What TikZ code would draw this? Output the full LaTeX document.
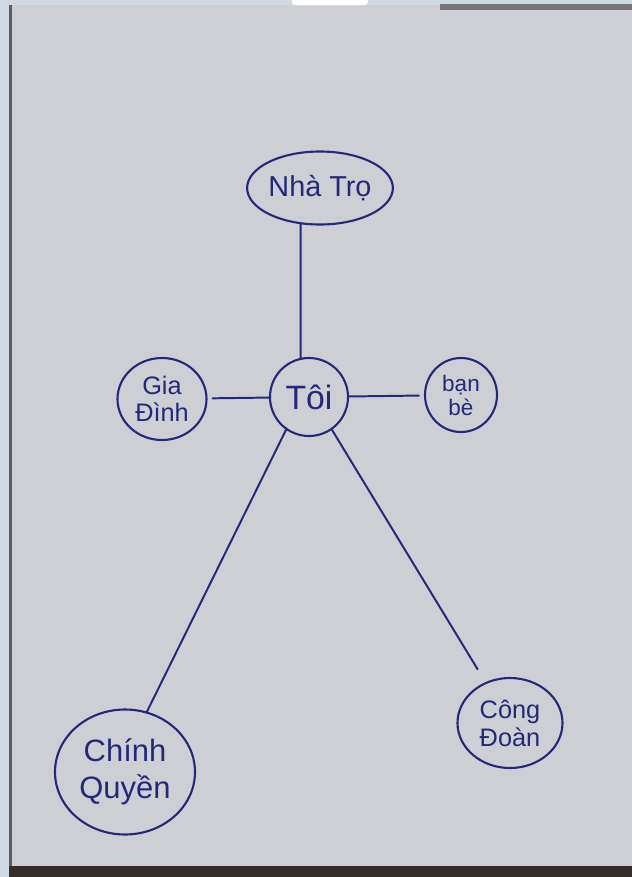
\documentclass[tikz,border=0pt]{standalone}
\usepackage{fontspec}
\setmainfont{Liberation Sans}
\usetikzlibrary{shapes.geometric}

\newcommand{\px}{0.025cm}
\definecolor{ink}{RGB}{36,40,122}
\definecolor{paper}{RGB}{206,207,213}
\definecolor{frame}{RGB}{208,217,225}
\definecolor{floor}{RGB}{52,44,40}

\tikzset{
  bubble/.style={draw=ink, ellipse, line width=1.5pt, inner sep=0pt, text=ink, align=center},
  link/.style={draw=ink, line width=1.4pt, line cap=round}
}

\begin{document}
\begin{tikzpicture}[x=\px, y=-\px]
\useasboundingbox (0,0) rectangle (632,877);
\clip (0,0) rectangle (632,877);
% photo edges
\fill [frame] (0,0) rectangle (632,877);
\fill [paper] (9,5) rectangle (632,866);
\fill [floor] (9,866) rectangle (632,877);
\fill [floor!55!paper] (440,4) rectangle (632,10);
\fill [floor!70!paper] (9,5) rectangle (12,866);
\fill [white, rounded corners=3*\px] (292,-5) rectangle (368,5);

% bubbles
\node [bubble, minimum width=130*\px, minimum height=73*\px, font=\fontsize{20.5}{24}\selectfont] (tro) at (320,188) {Nhà Trọ};
\node [bubble, circle, minimum size=78*\px, font=\fontsize{24}{26}\selectfont] (toi) at (309,397) {Tôi};
\node [bubble, minimum width=89*\px, minimum height=82*\px, font=\fontsize{18}{19}\selectfont] (gia) at (162,399) {Gia\\Đình};
\node [bubble, minimum width=72*\px, minimum height=74*\px, font=\fontsize{16}{17}\selectfont] (ban) at (461,395) {bạn\\bè};
\node [bubble, minimum width=140*\px, minimum height=125*\px, font=\fontsize{22}{26}\selectfont] (quyen) at (125,772) {Chính\\Quyền};
\node [bubble, minimum width=105*\px, minimum height=90*\px, font=\fontsize{18}{20}\selectfont] (doan) at (510,723) {Công\\Đoàn};

% links
\draw [link] (tro.242) -- (toi.102);
\draw [link, shorten <=5*\px] (gia) -- (toi);
\draw [link, shorten >=5*\px] (toi) -- (ban);
\draw [link] (toi.235) -- (quyen.70);
\draw [link, shorten >=15*\px] (toi.305) -- (doan.121);

\end{tikzpicture}
\end{document}
